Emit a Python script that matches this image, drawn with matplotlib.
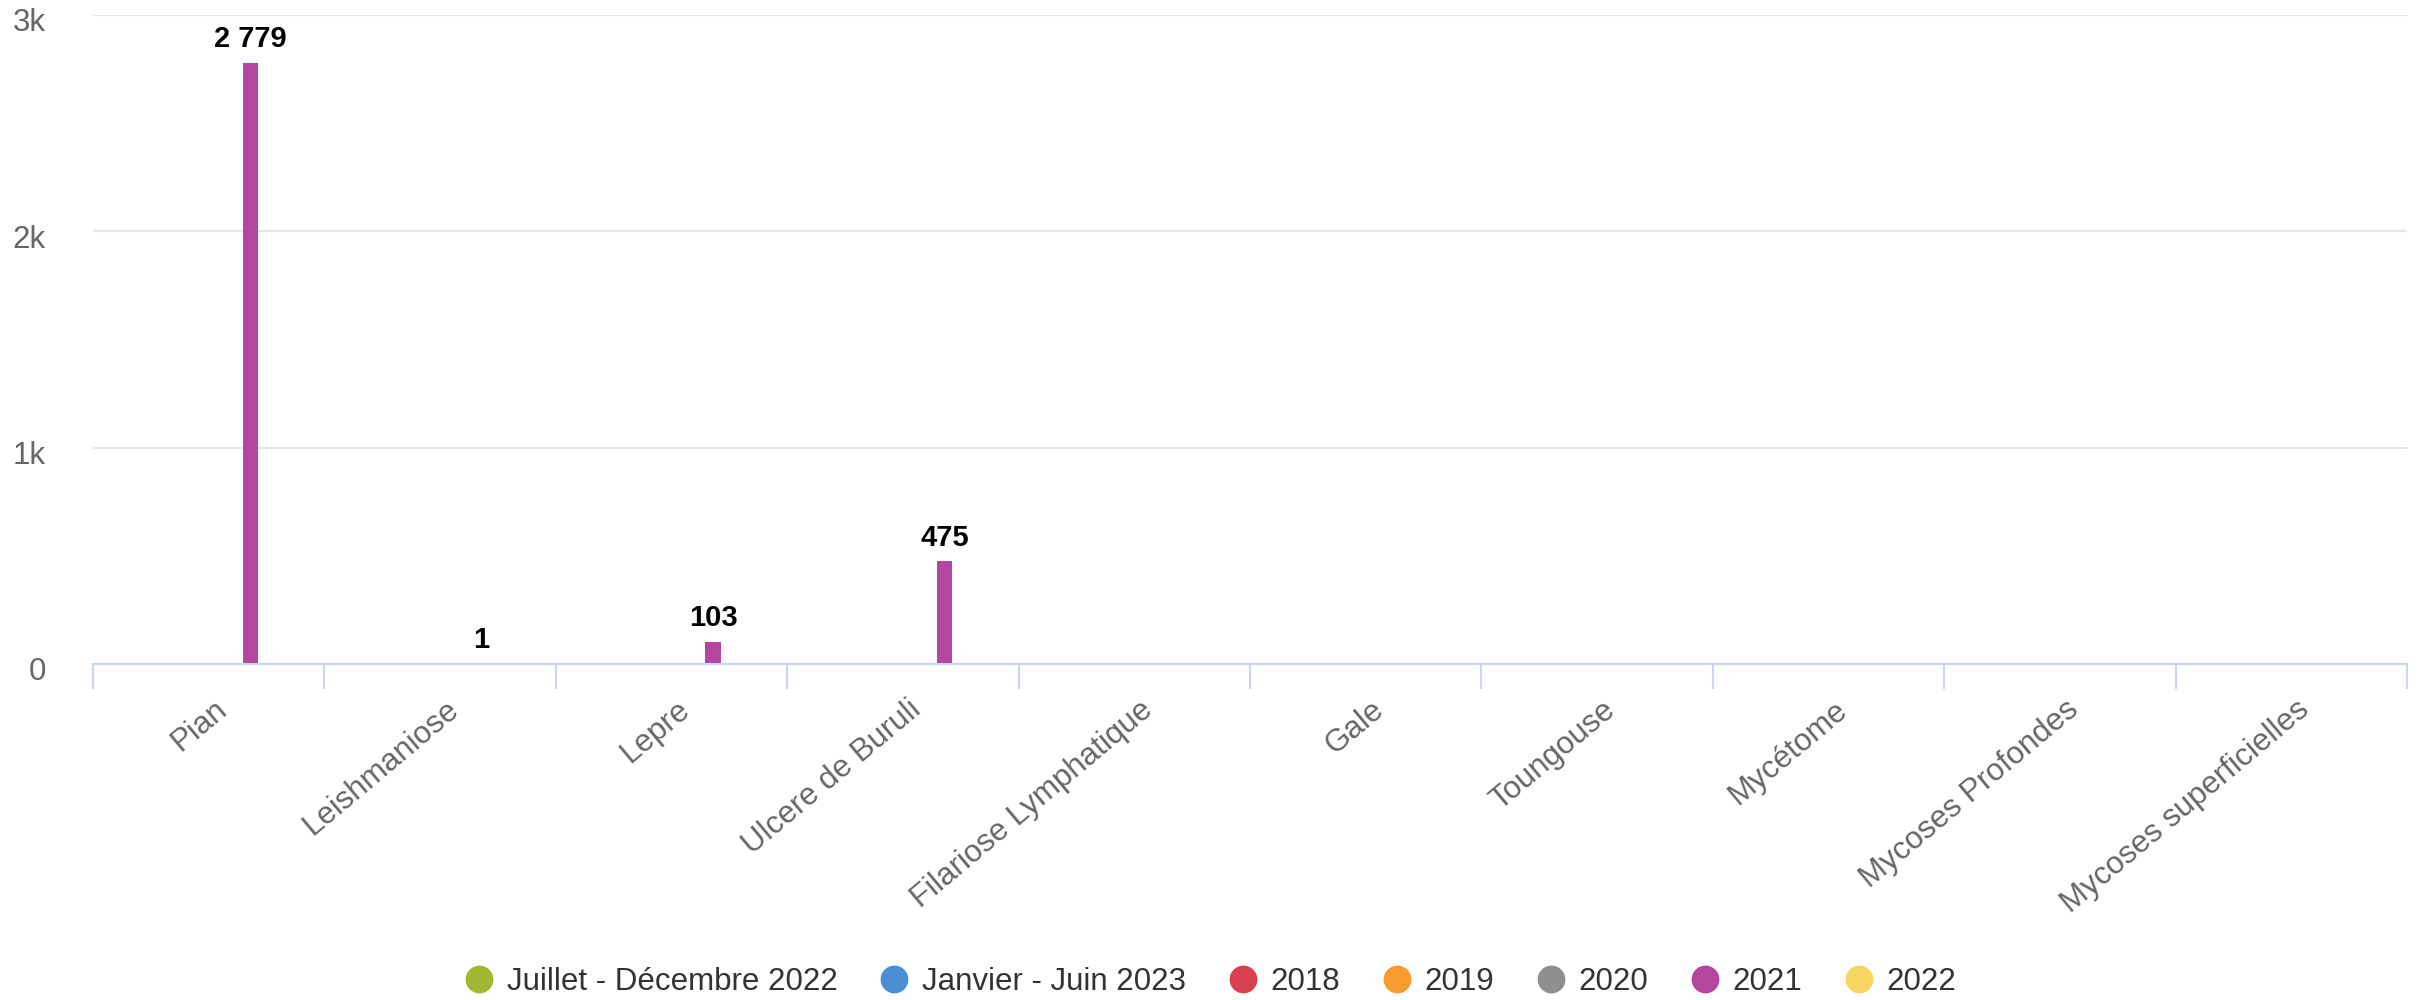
import numpy as np
import matplotlib
matplotlib.use("Agg")
import matplotlib.pyplot as plt
import matplotlib.transforms as mtransforms
from matplotlib.lines import Line2D

plt.rcParams['font.family'] = ['Liberation Sans', 'DejaVu Sans']

categories = ["Pian", "Leishmaniose", "Lepre", "Ulcere de Buruli",
              "Filariose Lymphatique", "Gale", "Toungouse", "Mycétome",
              "Mycoses Profondes", "Mycoses superficielles"]

series_names = ["Juillet - Décembre 2022", "Janvier - Juin 2023",
                "2018", "2019", "2020", "2021", "2022"]
series_colors = ["#a2b832", "#4a8fd4", "#d9404f", "#f79a30",
                 "#8f8e91", "#b4469f", "#f8d55e"]

nan = np.nan
empty = [nan] * 10
values = {
    "Juillet - Décembre 2022": empty,
    "Janvier - Juin 2023": empty,
    "2018": empty,
    "2019": empty,
    "2020": empty,
    "2021": [2779, 1, 103, 475, nan, nan, nan, nan, nan, nan],
    "2022": empty,
}

ytick_values = [0, 1000, 2000, 3000]
ytick_labels = ["0", "1k", "2k", "3k"]

fig = plt.figure(figsize=(24.2, 10), dpi=100)
ax = fig.add_axes([0.0384, 0.336, 0.9562, 0.649])

x = np.arange(len(categories))
slot = 0.09
bar_w = 0.066
n = len(series_names)
for i, (name, color) in enumerate(zip(series_names, series_colors)):
    vals = np.array(values[name], dtype=float)
    pos = x + (i - (n - 1) / 2) * slot
    ax.bar(pos, vals, width=bar_w, color=color, zorder=3)
    for px, v in zip(pos, vals):
        if not np.isnan(v):
            label = f"{int(v):,}".replace(",", " ")
            ax.annotate(label, (px, v), xytext=(0, 7), textcoords="offset points",
                        ha="center", va="bottom", fontsize=21, fontweight="bold",
                        color="#000000", zorder=4)

ax.set_xlim(-0.5, len(categories) - 0.5)
ax.set_ylim(0, 3000)

# y axis
ax.set_yticks(ytick_values, ytick_labels)
ax.tick_params(axis="y", length=0, pad=34, labelsize=22.5, labelcolor="#666666")
ax.yaxis.grid(True, color="#e6e6e6", linewidth=1.5, zorder=0)
ax.set_axisbelow(True)
dy = mtransforms.ScaledTranslation(0, -5 / 100, fig.dpi_scale_trans)
for lab in ax.get_yticklabels():
    lab.set_transform(lab.get_transform() + dy)

# x axis
ax.set_xticks(x, categories)
ax.set_xticks(np.arange(-0.5, len(categories)), minor=True)
ax.tick_params(axis="x", which="major", length=0, pad=22, labelsize=22.5,
               labelcolor="#666666")
ax.tick_params(axis="x", which="minor", length=18, width=1.5, color="#ccd6eb",
               direction="out")
dx = mtransforms.ScaledTranslation(5 / 100, 0, fig.dpi_scale_trans)
for lab in ax.get_xticklabels():
    lab.set_rotation(40)
    lab.set_ha("right")
    lab.set_va("top")
    lab.set_rotation_mode("anchor")
    lab.set_transform(lab.get_transform() + dx)

for side in ["top", "right", "left"]:
    ax.spines[side].set_visible(False)
ax.spines["bottom"].set_color("#ccd6eb")
ax.spines["bottom"].set_linewidth(1.5)
ax.spines["bottom"].set_zorder(5)

handles = [Line2D([], [], marker="o", linestyle="none", markersize=19,
                  markerfacecolor=c, markeredgecolor=c) for c in series_colors]
fig.legend(handles, series_names, loc="center", bbox_to_anchor=(0.5, 0.018),
           ncol=n, frameon=False, fontsize=22.5, labelcolor="#333333",
           handletextpad=0.4, columnspacing=1.3, handlelength=1.0,
           borderaxespad=0)

fig.savefig("out.png", dpi=100, facecolor="white")
